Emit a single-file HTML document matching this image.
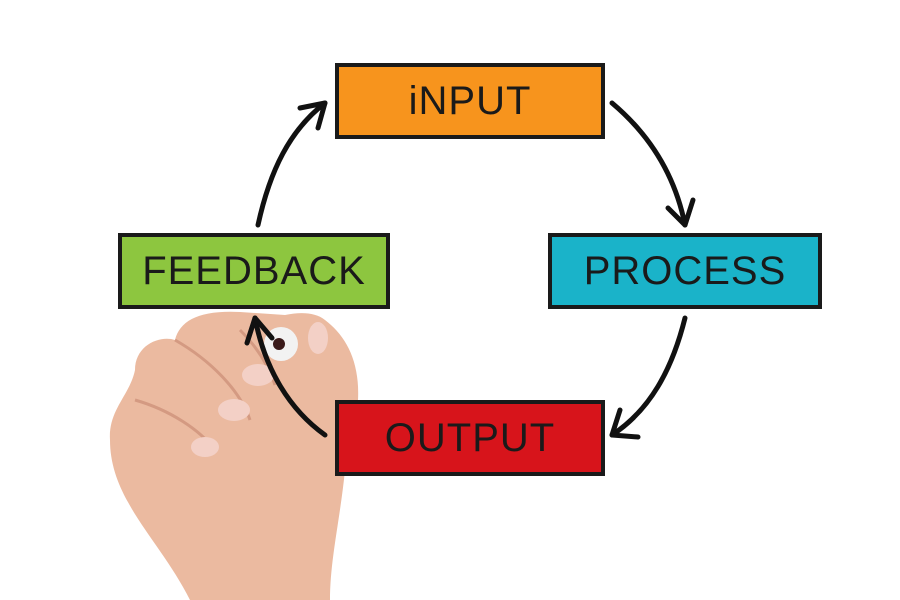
<!DOCTYPE html>
<html><head><style>
body{margin:0;width:900px;height:600px;background:#fff;overflow:hidden;position:relative;font-family:"Liberation Sans",sans-serif}
.b{position:absolute;border:4px solid #1a1a1a;box-sizing:border-box;display:flex;align-items:center;justify-content:center;font-size:40px;color:#1a1a1a;letter-spacing:1px}
</style></head><body>
<svg width="900" height="600" style="position:absolute;left:0;top:0">
<path d="M190 600 C160 540,110 500,110 440 C108 410,130 395,135 370 C135 345,160 335,175 340 C180 320,200 310,240 312 L285 315 C300 312,315 312,325 320 C345 335,360 360,358 400 L345 470 C340 520,330 560,330 600 Z" fill="#ebbaa0"/>
<path d="M175 340 C210 360,240 390,250 420 M135 400 C170 410,200 430,215 450 M240 330 C260 350,270 370,275 385" stroke="#d49a82" stroke-width="3" fill="none"/>
<ellipse cx="258" cy="375" rx="16" ry="11" fill="#f3d0c6"/>
<ellipse cx="234" cy="410" rx="16" ry="11" fill="#f3d0c6"/>
<ellipse cx="205" cy="447" rx="14" ry="10" fill="#f3d0c6"/>
<ellipse cx="318" cy="338" rx="10" ry="16" fill="#f3d0c6"/>
<circle cx="281" cy="344" r="17" fill="#f2f2f2"/>
<circle cx="279" cy="344" r="6" fill="#3a1a1a"/>
<g stroke="#111" stroke-width="5" fill="none" stroke-linecap="round" stroke-linejoin="round">
<path d="M258 225 C270 170,290 130,325 103"/><path d="M300 108 L325 103 L318 128"/>
<path d="M612 103 C650 135,675 175,685 225"/><path d="M668 208 L685 225 L693 200"/>
<path d="M685 318 C672 370,650 410,612 435"/><path d="M620 410 L612 435 L638 437"/>
<path d="M325 435 C290 410,265 370,255 318"/><path d="M247 343 L255 318 L272 338"/>
</g>
</svg>
<div class="b" style="left:335px;top:63px;width:270px;height:76px;background:#f7941d">iNPUT</div>
<div class="b" style="left:548px;top:233px;width:274px;height:76px;background:#1ab3c9">PROCESS</div>
<div class="b" style="left:118px;top:233px;width:272px;height:76px;background:#8dc63f">FEEDBACK</div>
<div class="b" style="left:335px;top:400px;width:270px;height:76px;background:#d7141b">OUTPUT</div>
</body></html>
